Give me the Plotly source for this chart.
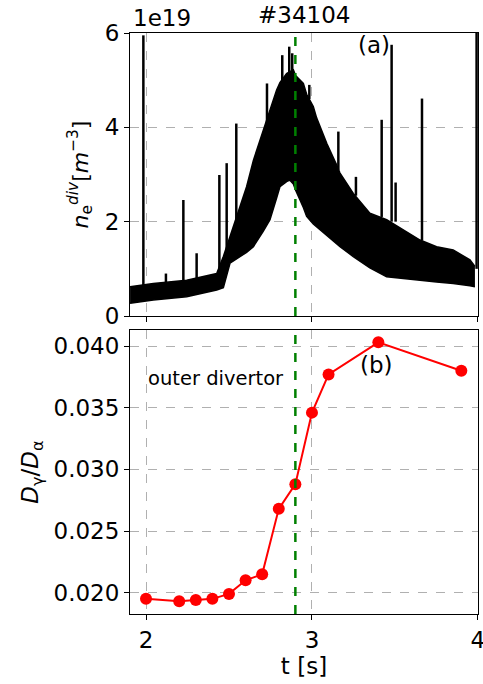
import plotly.graph_objects as go

# ---------------- data ----------------
# panel (a): divertor density envelope (units of 1e19 m^-3)
env_t = [1.904, 2.044, 2.245, 2.426, 2.466, 2.506, 2.606, 2.647, 2.707, 2.747, 2.787, 2.807,
         2.847, 2.867, 2.888, 2.901, 2.948, 2.968, 3.008, 3.028, 3.089, 3.149, 3.169, 3.249,
         3.349, 3.450, 3.550, 3.651, 3.751, 3.851, 3.952, 3.982]
env_low = [0.27, 0.34, 0.41, 0.55, 0.60, 1.12, 1.35, 1.47, 1.80, 2.04, 2.50, 2.74,
           2.85, 2.88, 2.80, 2.67, 2.30, 2.11, 1.95, 1.89, 1.70, 1.54, 1.47, 1.26,
           1.02, 0.83, 0.80, 0.76, 0.72, 0.69, 0.64, 0.62]
env_high = [0.62, 0.69, 0.76, 0.90, 1.26, 1.68, 2.74, 3.30, 3.94, 4.40, 4.79, 4.95,
            5.14, 5.18, 5.22, 5.10, 4.93, 4.70, 4.44, 4.20, 3.66, 3.20, 3.03, 2.60,
            2.18, 2.04, 1.82, 1.61, 1.47, 1.40, 1.19, 1.05]
spike_t = [1.984, 2.120, 2.225, 2.305, 2.442, 2.486, 2.544, 2.729, 2.821, 2.863, 2.881,
           2.984, 3.159, 3.265, 3.420, 3.480, 3.504, 3.663, 3.992]
spike_base = [0.55, 0.72, 0.76, 0.80, 0.90, 0.90, 1.90, 4.10, 4.90, 5.10, 5.20,
              4.60, 3.10, 2.55, 2.10, 2.00, 2.00, 1.60, 1.00]
spike_top = [5.95, 0.90, 2.46, 1.33, 2.99, 3.24, 4.08, 4.93, 5.53, 5.71, 5.57,
             4.90, 3.91, 2.95, 4.16, 5.75, 2.83, 4.61, 6.30]

# panel (b): D_gamma / D_alpha ratio
ratio_t = [2.0, 2.2, 2.3, 2.4, 2.5, 2.6, 2.7, 2.8, 2.9, 3.0, 3.1, 3.4, 3.9]
ratio_v = [0.0195, 0.0193, 0.0194, 0.0195, 0.0199, 0.0210, 0.0215, 0.0268, 0.0288,
           0.0346, 0.0377, 0.0403, 0.0380]

event_time = 2.9
shot_label = "#34104"

# ---------------- figure ----------------
fig = go.Figure()

fig.add_trace(go.Scatter(x=env_t, y=env_low, mode="lines",
                         line=dict(color="black", width=1.5),
                         xaxis="x", yaxis="y", showlegend=False, hoverinfo="skip"))
fig.add_trace(go.Scatter(x=env_t, y=env_high, mode="lines", fill="tonexty",
                         fillcolor="black", line=dict(color="black", width=1.5),
                         xaxis="x", yaxis="y", showlegend=False, hoverinfo="skip"))
sx, sy = [], []
for t, b, h in zip(spike_t, spike_base, spike_top):
    sx += [t, t, None]
    sy += [b, h, None]
fig.add_trace(go.Scatter(x=sx, y=sy, mode="lines", line=dict(color="black", width=2.5),
                         xaxis="x", yaxis="y", showlegend=False, hoverinfo="skip"))

fig.add_trace(go.Scatter(x=ratio_t, y=ratio_v, mode="lines+markers",
                         line=dict(color="red", width=2),
                         marker=dict(color="red", size=12),
                         xaxis="x2", yaxis="y2", showlegend=False, cliponaxis=False))

for xr, yr in (("x", "y domain"), ("x2", "y2 domain")):
    fig.add_shape(type="line", x0=event_time, x1=event_time, y0=0, y1=1,
                  xref=xr, yref=yr, line=dict(color="green", width=2.5, dash="dash"))

axis_common = dict(showline=True, mirror=True, linecolor="black", linewidth=1,
                   ticks="outside", ticklen=5, tickwidth=1, tickcolor="black",
                   showgrid=True, gridcolor="#b0b0b0", griddash="dash", gridwidth=1,
                   zeroline=False, automargin=False, ticklabeloverflow="allow",
                   tickfont=dict(size=23, color="black"))

fig.update_layout(
    width=483, height=684,
    margin=dict(l=130, r=5, t=33, b=70),
    paper_bgcolor="white", plot_bgcolor="white",
    font=dict(family="DejaVu Sans", color="black"),
    xaxis=dict(domain=[0, 1], range=[1.9035, 4.0005], anchor="y", matches="x2",
               tickvals=[2, 3, 4], showticklabels=False, **axis_common),
    yaxis=dict(domain=[0.5129, 1], range=[0, 6], anchor="x",
               tickvals=[0, 2, 4, 6],
               title=dict(text="<i>n</i><sub>e</sub><sup><i>div</i></sup>[<i>m</i><sup>−3</sup>]",
                          font=dict(size=22), standoff=10),
               **axis_common),
    xaxis2=dict(domain=[0, 1], range=[1.9035, 4.0005], anchor="y2",
                tickvals=[2, 3, 4],
                title=dict(text="t [s]", font=dict(size=23), standoff=4),
                **axis_common),
    yaxis2=dict(domain=[0, 0.4888], range=[0.01827, 0.0413], anchor="x2",
                tickvals=[0.020, 0.025, 0.030, 0.035, 0.040], tickformat=".3f",
                title=dict(text="<i>D</i><sub>γ</sub>/<i>D</i><sub>α</sub>",
                           font=dict(size=23), standoff=8),
                **axis_common),
)

fig.add_annotation(text="1e19", xref="paper", yref="paper", x=0.004, y=1.026,
                   xanchor="left", yanchor="middle", showarrow=False, font=dict(size=23))
fig.add_annotation(text=shot_label, xref="paper", yref="paper", x=0.5, y=1.031,
                   xanchor="center", yanchor="middle", showarrow=False, font=dict(size=23))
fig.add_annotation(text="(a)", xref="paper", yref="paper", x=0.701, y=0.979,
                   xanchor="center", yanchor="middle", showarrow=False, font=dict(size=23))
fig.add_annotation(text="(b)", xref="paper", yref="paper", x=0.707, y=0.4286,
                   xanchor="center", yanchor="middle", showarrow=False, font=dict(size=23))
fig.add_annotation(text="outer divertor", xref="paper", yref="paper", x=0.046, y=0.406,
                   xanchor="left", yanchor="middle", showarrow=False, font=dict(size=19.5))

fig.write_html("out.html", config={"displayModeBar": False},
               post_script="document.body.style.margin='0';document.body.style.overflow='hidden';")
